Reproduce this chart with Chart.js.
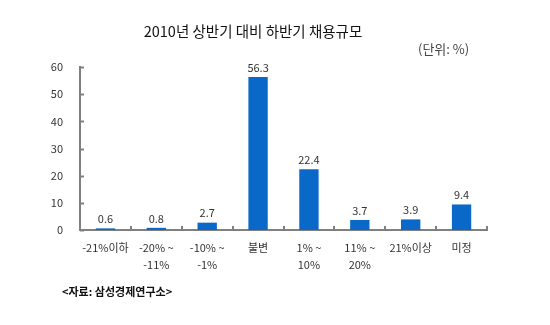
<!DOCTYPE html>
<html><head><meta charset="utf-8">
<script src="https://cdn.jsdelivr.net/npm/chart.js@4"></script>
<style>html,body{margin:0;padding:0;background:#fff;}#wrap{width:550px;height:325px;position:relative;}</style>
</head><body><div id="wrap"><canvas id="c" width="550" height="325"></canvas></div>
<script>
const categories = [['-21%이하'], ['-20% ~','-11%'], ['-10% ~','-1%'], ['불변'], ['1% ~','10%'], ['11% ~','20%'], ['21%이상'], ['미정']];
const values = [0.6, 0.8, 2.7, 56.3, 22.4, 3.7, 3.9, 9.4];
const valueLabels = ['0.6', '0.8', '2.7', '56.3', '22.4', '3.7', '3.9', '9.4'];
const yTicks = [0, 10, 20, 30, 40, 50, 60];
const titleText = '2010년 상반기 대비 하반기 채용규모';
const unitText = '(단위: %)';
const sourceText = '<자료: 삼성경제연구소>';

const FONT = '"Noto Sans CJK KR", "Noto Sans", sans-serif';
const extras = {
  id: 'extras',
  afterDraw(chart) {
    const ctx = chart.ctx, x = chart.scales.x, y = chart.scales.y, ca = chart.chartArea;
    ctx.save();
    ctx.strokeStyle = '#808080'; ctx.lineWidth = 2;
    yTicks.forEach(v => { const py = Math.round(y.getPixelForValue(v)) + 0.5; ctx.beginPath(); ctx.moveTo(ca.left, py); ctx.lineTo(ca.left + 4, py); ctx.stroke(); });
    const n = values.length;
    for (let i = 1; i <= n; i++) {
      let px = (i === n) ? ca.right : (x.getPixelForValue(i - 1) + x.getPixelForValue(i)) / 2;
      px = Math.round(px);
      ctx.beginPath(); ctx.moveTo(px, ca.bottom); ctx.lineTo(px, ca.bottom - 4); ctx.stroke();
    }
    ctx.fillStyle = '#333'; ctx.font = '11px ' + FONT; ctx.textAlign = 'center'; ctx.textBaseline = 'bottom';
    const meta = chart.getDatasetMeta(0);
    meta.data.forEach((b, i) => ctx.fillText(valueLabels[i], b.x, b.y - 4));
    ctx.fillStyle = '#111'; ctx.font = '14.5px ' + FONT; ctx.textBaseline = 'middle';
    ctx.fillText(titleText, 253, 31);
    ctx.fillStyle = '#444'; ctx.font = '13px ' + FONT; ctx.textAlign = 'left';
    ctx.fillText(unitText, 418, 49);
    ctx.fillStyle = '#111'; ctx.font = 'bold 11px ' + FONT;
    ctx.fillText(sourceText, 62, 292);
    ctx.restore();
  }
};

new Chart(document.getElementById('c'), {
  type: 'bar',
  data: { labels: categories, datasets: [{ data: values, backgroundColor: '#0a68c8', barPercentage: 0.38, categoryPercentage: 1 }] },
  options: {
    responsive: false, animation: false,
    layout: { padding: { top: 67, right: 63, left: 0, bottom: 0 } },
    plugins: { legend: { display: false }, tooltip: { enabled: false } },
    scales: {
      x: {
        grid: { display: false, drawTicks: false },
        border: { color: '#808080', width: 2 },
        ticks: { color: '#333', font: { size: 11, family: FONT, lineHeight: 1.55 }, padding: 9, maxRotation: 0, autoSkip: false },
        afterFit(s) { s.height = 95; }
      },
      y: {
        min: 0, max: 60,
        afterBuildTicks(s) { s.ticks = yTicks.map(v => ({ value: v })); },
        grid: { display: false, drawTicks: false },
        border: { color: '#808080', width: 2 },
        ticks: { color: '#333', font: { size: 11, family: FONT }, padding: 17 },
        afterFit(s) { s.width = 80; }
      }
    }
  },
  plugins: [extras]
});
</script></body></html>
